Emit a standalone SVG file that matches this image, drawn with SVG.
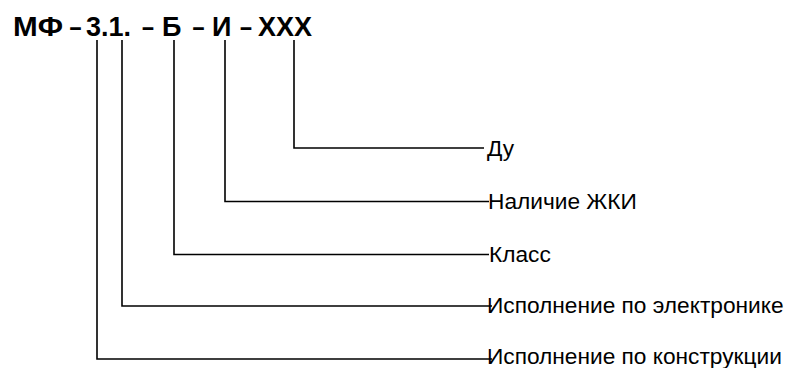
<svg xmlns="http://www.w3.org/2000/svg" width="787" height="368" viewBox="0 0 787 368">
<style>
.t{font-family:"Liberation Sans",Arial,sans-serif;font-size:22.7px;fill:#000}
.h{font-family:"Liberation Sans",Arial,sans-serif;font-size:27px;font-weight:bold;fill:#000}
.c{fill:none;stroke:#000;stroke-width:1.6}
</style>
<rect width="787" height="368" fill="#fff"/>
<g id="title">
<text class="h" y="36"><tspan x="13" textLength="50" lengthAdjust="spacingAndGlyphs">МФ</tspan><tspan x="69.5" textLength="12" lengthAdjust="spacingAndGlyphs">–</tspan><tspan x="86">3.1.</tspan><tspan x="142" textLength="12" lengthAdjust="spacingAndGlyphs">–</tspan><tspan x="162">Б</tspan><tspan x="192.5" textLength="12" lengthAdjust="spacingAndGlyphs">–</tspan><tspan x="212">И</tspan><tspan x="240" textLength="12" lengthAdjust="spacingAndGlyphs">–</tspan><tspan x="258">ХХХ</tspan></text>
</g>
<g id="connectors">
<polyline class="c" points="294,40 294,148 484,148"/>
<polyline class="c" points="225,40 225,201.5 489,201.5"/>
<polyline class="c" points="174,40 174,254.5 489,254.5"/>
<polyline class="c" points="122,40 122,306 492,306"/>
<polyline class="c" points="97,40 97,359 492,359"/>
</g>
<g id="n-du"><text class="t" x="487" y="156">Ду</text></g>
<g id="n-zhki"><text class="t" x="488" y="209">Наличие ЖКИ</text></g>
<g id="n-klass"><text class="t" x="489" y="262">Класс</text></g>
<g id="n-el"><text class="t" x="487" y="313">Исполнение по электронике</text></g>
<g id="n-kon"><text class="t" x="487" y="364">Исполнение по конструкции</text></g>
</svg>
